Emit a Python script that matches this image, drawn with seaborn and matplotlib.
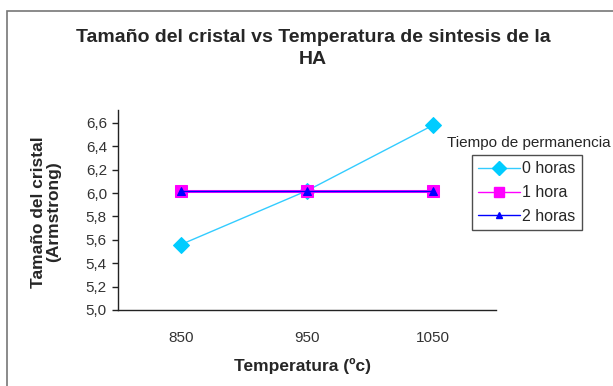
import matplotlib
matplotlib.use("Agg")
import matplotlib.pyplot as plt
import matplotlib.ticker as mticker
from matplotlib.patches import Rectangle
from matplotlib.lines import Line2D
import seaborn as sns
import pandas as pd

temperaturas = ["850", "950", "1050"]
serie_0h = [5.56, 6.02, 6.58]
serie_1h = [6.02, 6.02, 6.02]
serie_2h = [6.02, 6.02, 6.02]
series = ["0 horas", "1 hora", "2 horas"]
y_ticks = [5.0, 5.2, 5.4, 5.6, 5.8, 6.0, 6.2, 6.4, 6.6]

sns.set_theme(style="white")
plt.rcParams["font.family"] = ["Liberation Sans", "DejaVu Sans"]

rows = []
for nombre, valores in zip(series, [serie_0h, serie_1h, serie_2h]):
    for i, (t, v) in enumerate(zip(temperaturas, valores)):
        rows.append({"pos": i, "temp": t, "valor": v, "serie": nombre})
df = pd.DataFrame(rows)

colores = {"0 horas": "#33CCFF", "1 hora": "#FF00FF", "2 horas": "#0000FF"}
marcadores = {"0 horas": "D", "1 hora": "s", "2 horas": "^"}
tam = {"0 horas": 8, "1 hora": 8.5, "2 horas": 6}
mcol = {"0 horas": "#00CCFF", "1 hora": "#FF00FF", "2 horas": "#0000FF"}
lw = {"0 horas": 1.0, "1 hora": 2.2, "2 horas": 1.0}

fig = plt.figure(figsize=(6.13, 3.86), dpi=100)
ax = fig.add_axes([118 / 613, 1 - 310 / 386, (496 - 118) / 613, (310 - 110) / 386])

for nombre in series:
    sub = df[df["serie"] == nombre]
    sns.lineplot(data=sub, x="pos", y="valor", ax=ax, color=colores[nombre],
                 linewidth=lw[nombre], marker=marcadores[nombre],
                 markersize=tam[nombre], markerfacecolor=mcol[nombre],
                 markeredgecolor=mcol[nombre], legend=False, zorder=3)

ax.set_xlim(-0.5, 2.5)
ax.set_ylim(5.0, 6.71)
ax.set_yticks(y_ticks)
ax.yaxis.set_major_formatter(mticker.FuncFormatter(lambda v, p: f"{v:.1f}".replace(".", ",")))
ax.set_xticks([0, 1, 2])
ax.set_xticklabels(temperaturas)
ax.set_xticks([-0.5, 0.5, 1.5, 2.5], minor=True)
ax.tick_params(axis="x", which="major", length=0, pad=15, labelsize=11, colors="#333333")
ax.tick_params(axis="x", which="minor", length=5, width=1, color="#222222", direction="out")
ax.tick_params(axis="y", length=4, width=1, color="#222222", direction="out", labelsize=11,
               labelcolor="#333333", left=True, pad=4)
for s in ["top", "right"]:
    ax.spines[s].set_visible(False)
for s in ["left", "bottom"]:
    ax.spines[s].set_color("#222222")
    ax.spines[s].set_linewidth(1)

ax.set_xlabel("")
ax.set_ylabel("")

fig.text(313 / 613, 1 - 37 / 386, "Tamaño del cristal vs Temperatura de sintesis de la",
         ha="center", va="center", fontsize=14, fontweight="bold")
fig.text(313 / 613, 1 - 60 / 386, "HA", ha="center", va="center", fontsize=14, fontweight="bold")
fig.text(46 / 613, 1 - 212 / 386, "Tamaño del cristal\n(Armstrong)", ha="center", va="center",
         rotation=90, fontsize=12.5, fontweight="bold", linespacing=1.05)
fig.text(302 / 613, 1 - 366 / 386, "Temperatura (ºc)", ha="center", va="center",
         fontsize=12.5, fontweight="bold")
fig.text(529 / 613, 1 - 143 / 386, "Tiempo de permanencia", ha="center", va="center", fontsize=11)

handles = [Line2D([0], [0], color=colores[n], linewidth=1.0, marker=marcadores[n],
                  markersize=tam[n] - 1, markerfacecolor=mcol[n], markeredgecolor=mcol[n])
           for n in series]
leg = fig.legend(handles, series, loc="upper left",
                 bbox_to_anchor=(472 / 613, 1 - 155 / 386), fontsize=11.5, frameon=True,
                 fancybox=False, handlelength=2.6, handletextpad=0.15, borderpad=0.4,
                 labelspacing=0.55, borderaxespad=0)
leg.get_frame().set_edgecolor("#222222")
leg.get_frame().set_linewidth(1)

fig.patches.append(Rectangle((7 / 613, -0.1), 1.2, 1 - 11 / 386 + 0.1, transform=fig.transFigure,
                             fill=False, edgecolor="#777777", linewidth=1.2))

fig.savefig("out.png", dpi=100)
